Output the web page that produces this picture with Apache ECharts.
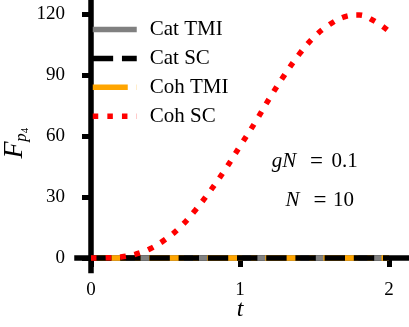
<!DOCTYPE html>
<html>
<head>
<meta charset="utf-8">
<script src="https://cdn.jsdelivr.net/npm/echarts@6/dist/echarts.min.js"></script>
<style>
  html, body { margin: 0; padding: 0; background: #fff; }
  #chart { width: 409px; height: 327px; }
</style>
</head>
<body>
<div id="chart"></div>
<script>
const tValues = [0, 0.1, 0.2, 0.3, 0.4, 0.5, 0.6, 0.7, 0.8, 0.9, 1.0,
  1.1, 1.2, 1.3, 1.4, 1.5, 1.6, 1.7, 1.8, 1.9, 2.0];
const catTmi = [0, 0, 0, 0, 0, 0, 0, 0, 0, 0, 0, 0, 0, 0, 0, 0, 0, 0, 0, 0, 0];
const catSc = [0, 0, 0, 0, 0, 0, 0, 0, 0, 0, 0, 0, 0, 0, 0, 0, 0, 0, 0, 0, 0];
const cohTmi = [0, 0, 0, 0, 0, 0, 0, 0, 0, 0, 0, 0, 0, 0, 0, 0, 0, 0, 0, 0, 0];
const cohSc = [0, 0.1, 0.5, 1.9, 4.7, 9.2, 15.3, 23.5, 33, 43.5, 55,
  66.5, 78.8, 90.2, 100.5, 108.9, 114.8, 118.6, 119.5, 116.6, 111.5];
const xTicks = [0, 1, 2];
const yTicks = [0, 30, 60, 90, 120];

const font = "Liberation Serif";
const lw = 5.5;

const pairs = (ys) => tValues.map((t, i) => [t, ys[i]]);

const chart = echarts.init(document.getElementById("chart"));

// one plain line per curve, no markers
const lineSeries = (name, ys, color, type) => ({
  name: name,
  type: "line",
  data: pairs(ys),
  symbol: "none",
  showSymbol: false,
  smooth: name === "Coh SC" ? 0.4 : false,
  lineStyle: { color: color, width: lw, type: type, cap: "butt" },
  itemStyle: { color: color },
  emphasis: { disabled: true },
});

const txt = (x, y, text, size, italic, rot) => ({
  type: "text", x: x, y: y, rotation: rot || 0,
  style: {
    text: text, fontFamily: font, fontSize: size, fontStyle: italic ? "italic" : "normal",
    fill: "#000", align: "center", verticalAlign: "middle",
  },
});

const option = {
  animation: false,
  textStyle: { fontFamily: font },
  grid: { left: 77, right: 0, top: 0, bottom: 56.5 },
  legend: {
    orient: "vertical",
    left: 90,
    top: 19,
    padding: 0,
    itemWidth: 44,
    itemHeight: 14,
    itemGap: 7.9,
    data: ["Cat TMI", "Cat SC", "Coh TMI", "Coh SC"],
    itemStyle: { opacity: 0 },
    lineStyle: { width: lw },
    textStyle: { fontFamily: font, fontSize: 21, color: "#000", padding: [0, 0, 0, 8] },
  },
  xAxis: {
    type: "value",
    min: -0.094,
    max: 2.134,
    axisLine: { show: true, lineStyle: { color: "#000", width: 5.5, cap: "square" } },
    axisTick: { show: true, customValues: xTicks, length: 9, lineStyle: { color: "#000", width: 5 } },
    axisLabel: { customValues: xTicks, fontFamily: font, fontSize: 19, color: "#000", margin: 10 },
    splitLine: { show: false },
  },
  yAxis: {
    type: "value",
    min: -6.15,
    max: 126.9,
    axisLine: { show: true, lineStyle: { color: "#000", width: 5.5, cap: "square" } },
    axisTick: { show: true, customValues: yTicks, length: 9, lineStyle: { color: "#000", width: 5 } },
    axisLabel: { customValues: yTicks, fontFamily: font, fontSize: 19, color: "#000", margin: 12 },
    splitLine: { show: false },
  },
  graphic: [
    txt(240, 310, "t", 24, true),
    txt(15, 150, "F", 28, true, Math.PI / 2),
    txt(22, 137.5, "p", 17, true, Math.PI / 2),
    txt(24.7, 130.5, "4", 11, false, Math.PI / 2),
    txt(284, 161.5, "gN", 21, true),
    txt(316.5, 161.5, "=", 23, false),
    txt(344.5, 161.5, "0.1", 21, false),
    txt(292.5, 200.5, "N", 21, true),
    txt(320, 200.5, "=", 23, false),
    txt(343.5, 200.5, "10", 21, false),
  ],
  // draw order: gray, orange, black dashes over them, red dots on top
  series: [
    lineSeries("Cat TMI", catTmi, "#808080", "solid"),
    lineSeries("Coh TMI", cohTmi, "#FFA500", [35, 8.8, 5.5, 8.8]),
    lineSeries("Cat SC", catSc, "#000000", [20.4, 8.8]),
    lineSeries("Coh SC", cohSc, "#FF0000", [5.5, 9.1]),
  ],
};

chart.setOption(option);
</script>
</body>
</html>
